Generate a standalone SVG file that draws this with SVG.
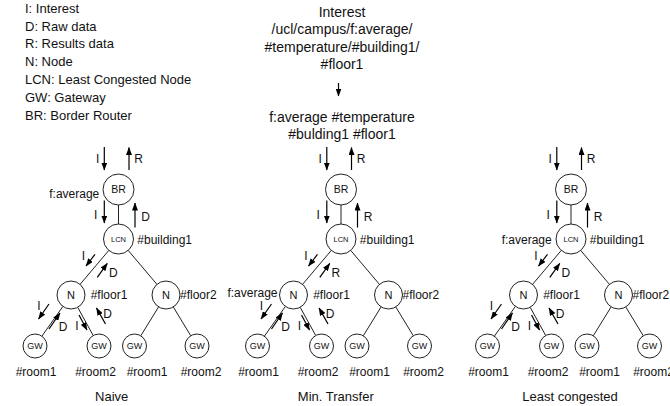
<svg xmlns="http://www.w3.org/2000/svg" width="670" height="406" viewBox="0 0 670 406">
<defs>
<marker id="ah" markerWidth="8" markerHeight="6" refX="7.5" refY="3" orient="auto" markerUnits="userSpaceOnUse">
<path d="M0,0 L8,3 L0,6 z" fill="#000"/>
</marker>
</defs>
<style>
text{font-family:"Liberation Sans",Arial,sans-serif;fill:#111}
.lg{font-size:13px}
.hd{font-size:14px;text-anchor:middle}
.lb{font-size:12px}
.c{text-anchor:middle}
.e{text-anchor:end}
.cap{font-size:13px;text-anchor:middle}
.nd circle{fill:#fff;stroke:#222;stroke-width:1}
.edge line{stroke:#222;stroke-width:1}
.arr line{stroke:#000;stroke-width:1.2;marker-end:url(#ah)}
.t-br{font-size:10.5px;text-anchor:middle}
.t-lcn{font-size:7.5px;text-anchor:middle}
.t-n{font-size:11px;text-anchor:middle}
.t-gw{font-size:9px;text-anchor:middle}
</style>

<g id="legend">
<text class="lg" x="25" y="13">I: Interest</text>
<text class="lg" x="25" y="30.5">D: Raw data</text>
<text class="lg" x="25" y="48">R: Results data</text>
<text class="lg" x="25" y="65.5">N: Node</text>
<text class="lg" x="25" y="83.5">LCN: Least Congested Node</text>
<text class="lg" x="25" y="101.5">GW: Gateway</text>
<text class="lg" x="25" y="119.5">BR: Border Router</text>
</g>

<g id="header">
<text class="hd" x="342" y="16.5">Interest</text>
<text class="hd" x="342" y="34">/ucl/campus/f:average/</text>
<text class="hd" x="342" y="51.5">#temperature/#building1/</text>
<text class="hd" x="342" y="69">#floor1</text>
<g class="arr"><line x1="338.5" y1="83" x2="338.5" y2="96"/></g>
<text class="hd" x="342" y="121.5">f:average #temperature</text>
<text class="hd" x="342" y="139">#bulding1 #floor1</text>
</g>

<!-- Panel 1: Naive -->
<g id="panel-naive">
<g id="naive-connectors" class="edge">
<line x1="118.5" y1="205" x2="118.5" y2="224"/>
<line x1="108.8" y1="250.4" x2="80.1" y2="284.3"/>
<line x1="128.2" y1="250.4" x2="156.9" y2="284.3"/>
<line x1="62.9" y1="306.4" x2="41.9" y2="336.2"/>
<line x1="77.7" y1="307.3" x2="93.2" y2="335.5"/>
<line x1="158.6" y1="306.9" x2="140.8" y2="335.8"/>
<line x1="173.3" y1="307" x2="190.8" y2="335.8"/>
</g>
<g id="naive-flows" class="arr">
<line x1="104.3" y1="147" x2="104.3" y2="170"/>
<line x1="129" y1="170" x2="129" y2="147.5"/>
<line x1="104.3" y1="200.5" x2="104.3" y2="223"/>
<line x1="135" y1="227.5" x2="135" y2="203"/>
<line x1="95" y1="254.3" x2="86" y2="266"/>
<line x1="97.3" y1="277.3" x2="107.3" y2="263.3"/>
<line x1="49" y1="304" x2="38.5" y2="319"/>
<line x1="49" y1="329" x2="60" y2="313"/>
<line x1="79" y1="315" x2="87" y2="330"/>
<line x1="105.5" y1="324" x2="96.5" y2="308"/>
</g>
<g id="naive-flow-labels" class="lb c">
<text x="97.7" y="162.5">I</text>
<text x="138.5" y="162.5">R</text>
<text x="95.7" y="218.5">I</text>
<text x="145.7" y="220.5">D</text>
<text x="83.3" y="259.5">I</text>
<text x="113.3" y="277">D</text>
<text x="39" y="310">I</text>
<text x="63" y="330.5">D</text>
<text x="77" y="329.5">I</text>
<text x="107.5" y="317.5">D</text>
</g>
<text class="lb e" x="99.3" y="198">f:average</text>
<g id="naive-BR" class="nd"><circle cx="118.5" cy="189.5" r="15.5"/><text class="t-br" x="118.5" y="193.2">BR</text></g>
<g id="naive-LCN" class="nd"><circle cx="118.5" cy="239" r="15"/><text class="t-lcn" x="118.5" y="241.7">LCN</text><text class="lb" x="137.3" y="244">#building1</text></g>
<g id="naive-N1" class="nd"><circle cx="71" cy="295" r="14"/><text class="t-n" x="71" y="299">N</text><text class="lb" x="90.7" y="299">#floor1</text></g>
<g id="naive-N2" class="nd"><circle cx="166" cy="295" r="14"/><text class="t-n" x="166" y="299">N</text><text class="lb" x="180" y="299">#floor2</text></g>
<g id="naive-GW1" class="nd"><circle cx="35" cy="346" r="12"/><text class="t-gw" x="35" y="349.2">GW</text><text class="lb c" x="36" y="376">#room1</text></g>
<g id="naive-GW2" class="nd"><circle cx="99" cy="346" r="12"/><text class="t-gw" x="99" y="349.2">GW</text><text class="lb c" x="95.5" y="376">#room2</text></g>
<g id="naive-GW3" class="nd"><circle cx="134.5" cy="346" r="12"/><text class="t-gw" x="134.5" y="349.2">GW</text><text class="lb c" x="147" y="376">#room1</text></g>
<g id="naive-GW4" class="nd"><circle cx="197" cy="346" r="12"/><text class="t-gw" x="197" y="349.2">GW</text><text class="lb c" x="201" y="376">#room2</text></g>
<text class="cap" x="111.7" y="400.5">Naive</text>
</g>

<!-- Panel 2: Min. Transfer -->
<g id="panel-min-transfer" transform="translate(222.5,0)">
<g id="mt-connectors" class="edge">
<line x1="118.5" y1="205" x2="118.5" y2="224"/>
<line x1="108.8" y1="250.4" x2="80.1" y2="284.3"/>
<line x1="128.2" y1="250.4" x2="156.9" y2="284.3"/>
<line x1="62.9" y1="306.4" x2="41.9" y2="336.2"/>
<line x1="77.7" y1="307.3" x2="93.2" y2="335.5"/>
<line x1="158.6" y1="306.9" x2="140.8" y2="335.8"/>
<line x1="173.3" y1="307" x2="190.8" y2="335.8"/>
</g>
<g id="mt-flows" class="arr">
<line x1="104.3" y1="147" x2="104.3" y2="170"/>
<line x1="129" y1="170" x2="129" y2="147.5"/>
<line x1="104.3" y1="200.5" x2="104.3" y2="223"/>
<line x1="135" y1="227.5" x2="135" y2="203"/>
<line x1="95" y1="254.3" x2="86" y2="266"/>
<line x1="97.3" y1="277.3" x2="107.3" y2="263.3"/>
<line x1="49" y1="304" x2="38.5" y2="319"/>
<line x1="49" y1="329" x2="60" y2="313"/>
<line x1="79" y1="315" x2="87" y2="330"/>
<line x1="105.5" y1="324" x2="96.5" y2="308"/>
</g>
<g id="mt-flow-labels" class="lb c">
<text x="97.7" y="162.5">I</text>
<text x="138.5" y="162.5">R</text>
<text x="95.7" y="218.5">I</text>
<text x="145.7" y="220.5">R</text>
<text x="83.3" y="259.5">I</text>
<text x="113.3" y="277">R</text>
<text x="39" y="310">I</text>
<text x="63" y="330.5">D</text>
<text x="77" y="329.5">I</text>
<text x="107.5" y="317.5">D</text>
</g>
<g id="mt-BR" class="nd"><circle cx="118.5" cy="189.5" r="15.5"/><text class="t-br" x="118.5" y="193.2">BR</text></g>
<g id="mt-LCN" class="nd"><circle cx="118.5" cy="239" r="15"/><text class="t-lcn" x="118.5" y="241.7">LCN</text><text class="lb" x="137.3" y="244">#building1</text></g>
<g id="mt-N1" class="nd"><circle cx="71" cy="295" r="14"/><text class="t-n" x="71" y="299">N</text><text class="lb" x="90.7" y="299">#floor1</text><text class="lb e" x="55" y="296.5">f:average</text></g>
<g id="mt-N2" class="nd"><circle cx="166" cy="295" r="14"/><text class="t-n" x="166" y="299">N</text><text class="lb" x="180" y="299">#floor2</text></g>
<g id="mt-GW1" class="nd"><circle cx="35" cy="346" r="12"/><text class="t-gw" x="35" y="349.2">GW</text><text class="lb c" x="36" y="376">#room1</text></g>
<g id="mt-GW2" class="nd"><circle cx="99" cy="346" r="12"/><text class="t-gw" x="99" y="349.2">GW</text><text class="lb c" x="95.5" y="376">#room2</text></g>
<g id="mt-GW3" class="nd"><circle cx="134.5" cy="346" r="12"/><text class="t-gw" x="134.5" y="349.2">GW</text><text class="lb c" x="147" y="376">#room1</text></g>
<g id="mt-GW4" class="nd"><circle cx="197" cy="346" r="12"/><text class="t-gw" x="197" y="349.2">GW</text><text class="lb c" x="201" y="376">#room2</text></g>
<text class="cap" x="113.3" y="400.5">Min. Transfer</text>
</g>

<!-- Panel 3: Least congested -->
<g id="panel-least-congested" transform="translate(452.5,0)">
<g id="lc-connectors" class="edge">
<line x1="118.5" y1="205" x2="118.5" y2="224"/>
<line x1="108.8" y1="250.4" x2="80.1" y2="284.3"/>
<line x1="128.2" y1="250.4" x2="156.9" y2="284.3"/>
<line x1="62.9" y1="306.4" x2="41.9" y2="336.2"/>
<line x1="77.7" y1="307.3" x2="93.2" y2="335.5"/>
<line x1="158.6" y1="306.9" x2="140.8" y2="335.8"/>
<line x1="173.3" y1="307" x2="190.8" y2="335.8"/>
</g>
<g id="lc-flows" class="arr">
<line x1="104.3" y1="147" x2="104.3" y2="170"/>
<line x1="129" y1="170" x2="129" y2="147.5"/>
<line x1="104.3" y1="200.5" x2="104.3" y2="223"/>
<line x1="135" y1="227.5" x2="135" y2="203"/>
<line x1="95" y1="254.3" x2="86" y2="266"/>
<line x1="97.3" y1="277.3" x2="107.3" y2="263.3"/>
<line x1="49" y1="304" x2="38.5" y2="319"/>
<line x1="49" y1="329" x2="60" y2="313"/>
<line x1="79" y1="315" x2="87" y2="330"/>
<line x1="105.5" y1="324" x2="96.5" y2="308"/>
</g>
<g id="lc-flow-labels" class="lb c">
<text x="97.7" y="162.5">I</text>
<text x="138.5" y="162.5">R</text>
<text x="95.7" y="218.5">I</text>
<text x="145.7" y="220.5">R</text>
<text x="83.3" y="259.5">I</text>
<text x="113.3" y="277">D</text>
<text x="39" y="310">I</text>
<text x="63" y="330.5">D</text>
<text x="77" y="329.5">I</text>
<text x="107.5" y="317.5">D</text>
</g>
<g id="lc-BR" class="nd"><circle cx="118.5" cy="189.5" r="15.5"/><text class="t-br" x="118.5" y="193.2">BR</text></g>
<g id="lc-LCN" class="nd"><circle cx="118.5" cy="239" r="15"/><text class="t-lcn" x="118.5" y="241.7">LCN</text><text class="lb" x="137.3" y="244">#building1</text><text class="lb e" x="99.2" y="244">f:average</text></g>
<g id="lc-N1" class="nd"><circle cx="71" cy="295" r="14"/><text class="t-n" x="71" y="299">N</text><text class="lb" x="90.7" y="299">#floor1</text></g>
<g id="lc-N2" class="nd"><circle cx="166" cy="295" r="14"/><text class="t-n" x="166" y="299">N</text><text class="lb" x="180" y="299">#floor2</text></g>
<g id="lc-GW1" class="nd"><circle cx="35" cy="346" r="12"/><text class="t-gw" x="35" y="349.2">GW</text><text class="lb c" x="36" y="376">#room1</text></g>
<g id="lc-GW2" class="nd"><circle cx="99" cy="346" r="12"/><text class="t-gw" x="99" y="349.2">GW</text><text class="lb c" x="95.5" y="376">#room2</text></g>
<g id="lc-GW3" class="nd"><circle cx="134.5" cy="346" r="12"/><text class="t-gw" x="134.5" y="349.2">GW</text><text class="lb c" x="147" y="376">#room1</text></g>
<g id="lc-GW4" class="nd"><circle cx="197" cy="346" r="12"/><text class="t-gw" x="197" y="349.2">GW</text><text class="lb c" x="201" y="376">#room2</text></g>
<text class="cap" x="117.5" y="400.5">Least congested</text>
</g>
</svg>
